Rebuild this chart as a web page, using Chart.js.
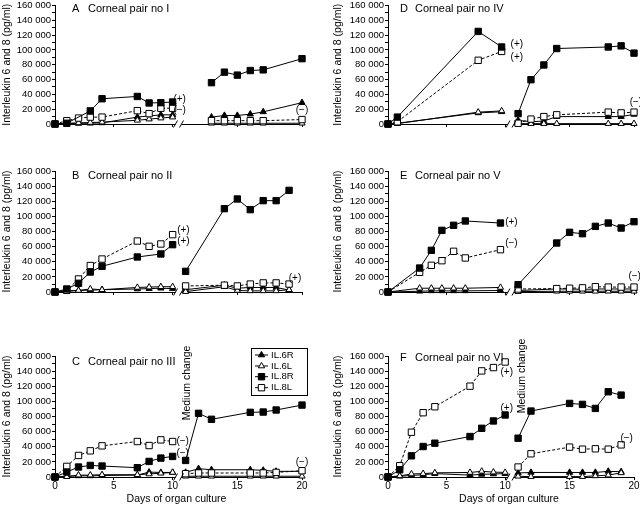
<!DOCTYPE html>
<html><head><meta charset="utf-8">
<script src="https://cdn.jsdelivr.net/npm/chart.js@4.4.1/dist/chart.umd.min.js"></script>
<style>
html,body{margin:0;padding:0;background:#fff;}
body{width:640px;height:505px;position:relative;overflow:hidden;}
canvas{position:absolute;}
</style></head><body>
<script>
// ---------------- DATA ----------------
const xTicksPre = [0, 5, 10];
const xTicksPost = [15, 20];
const yMax = 160000;

const daysA = [0,1,2,3,4,7,8,9,10,13,14,15,16,17,20];
const A_IL6R = [0,500,800,1000,1500,9300,null,12400,12400,9300,11500,11500,13300,16400,28800];
const A_IL6L = [0,1000,1500,2000,2500,5000,6600,8000,9300,1000,1000,1000,1000,1000,1000];
const A_IL8R = [0,1000,null,17700,34100,37200,28400,28800,29700,55800,70000,66000,72200,73100,88200];
const A_IL8L = [0,4400,8000,9300,9300,18000,14000,21300,21300,4500,4500,4500,4500,4500,6000];

const daysB = [0,1,2,3,4,7,8,9,10,11,14,15,16,17,18,19];
const B_IL6R = [0,1500,2000,2500,3000,4000,4500,5000,4500,3000,9000,5000,6000,6000,6000,2500];
const B_IL6L = [0,1000,2000,4000,3000,6000,6500,7000,7000,500,7000,2000,1500,1500,1500,3000];
const B_IL8R = [0,4000,11500,26400,34000,46300,null,50300,62600,27300,110200,123000,108900,120800,120800,134400];
const B_IL8L = [0,2200,17200,35000,43600,67400,60400,63500,75800,8000,9000,8000,10500,12000,12000,10500];

const daysC = [0,1,2,3,4,7,8,9,10,11,12,13,16,17,18,20];
const C_IL6R = [0,1000,1500,1500,2000,2500,6500,6000,6000,6100,11000,9600,9600,8800,7500,7500];
const C_IL6L = [0,500,2500,2500,3000,3000,4000,5000,6000,1000,1000,1000,1000,1000,1000,1000];
const C_IL8R = [0,6600,13200,15300,14500,12300,20600,25000,27200,21900,84200,76300,85500,85900,88600,95100];
const C_IL8L = [0,14000,28500,34600,41200,46900,41600,49100,46900,4400,5300,5300,5300,5300,6100,8300];

const daysD = [0,0.8,7.7,9.7,11,12,13,14,18,19,20];
const D_IL6R = [0,1000,15000,16500,5000,3000,4000,10000,10000,10000,13000];
const D_IL6L = [0,500,16000,17700,500,500,500,500,500,500,500];
const D_IL8R = [0,9300,125000,104000,14000,59800,79700,101900,104000,105500,95700];
const D_IL8L = [0,3000,86000,98000,1000,6600,10000,12400,16000,15000,16000];

const daysE = [0,2.7,3.7,4.6,5.6,6.6,9.6,11,14,15,16,17,18,19,20];
const E_IL6R = [0,1000,1500,1500,1500,1500,2000,2000,4000,4000,3500,4000,4000,4000,4000];
const E_IL6L = [0,5000,5000,5000,5000,5000,6000,500,1000,1000,1000,1000,1000,1000,1000];
const E_IL8R = [0,31700,55100,81500,88200,93900,91200,9700,64800,78900,77100,86800,91200,84600,93000];
const E_IL8L = [0,26000,35300,41400,53800,45000,56000,4000,4500,5000,5500,7000,6500,6500,6500];

const daysF = [0,1,2,3,4,7,8,9,10,11,12,15,16,17,18,19];
const F_IL6R = [0,1000,2000,3000,4500,2500,3500,4000,4500,5300,6000,6000,6000,6000,7500,7000];
const F_IL6L = [0,1500,4000,4500,5500,6000,7500,6500,6000,1000,500,500,500,1500,2500,5500];
const F_IL8R = [0,9600,28000,40300,44700,53500,64400,74100,82000,51300,87200,97300,96000,90700,112700,108300];
const F_IL8L = [0,14900,59200,85000,92900,120100,140300,144700,152100,13200,30700,39500,36800,37300,36800,42500];

// annotation texts [day, value, text]
const notesA = [[10.54,33500,'(+)'],[10.54,19000,'(\u2212)'],[20,19000,'(\u2212)']];
const notesB = [[10.83,81000,'(+)'],[10.83,66900,'(+)'],[19.46,18500,'(+)']];
const notesC = [[10.77,47000,'(\u2212)'],[10.77,31700,'(\u2212)'],[20,19300,'(\u2212)']];
const notesD = [[10.9,107700,'(+)'],[10.9,90800,'(+)'],[20.15,30000,'(\u2212)']];
const notesE = [[10.48,92000,'(+)'],[10.48,63900,'(\u2212)'],[20.05,20600,'(\u2212)']];
const notesF = [[10.14,138000,'(+)'],[10.14,91000,'(+)'],[19.43,51400,'(\u2212)']];

const seriesNames = ['IL.6R','IL.6L','IL.8R','IL.8L'];

// ---------------- STYLE / LAYOUT ----------------
const FONT = "'Liberation Sans',Arial,Helvetica,sans-serif";
Chart.defaults.font.family = FONT;
Chart.defaults.color = '#000';
const SPLIT = 10.45;

const SERIES = [
  {name:seriesNames[0], style:'triangle', r:3.6, fill:'#000', dash:[], order:4},
  {name:seriesNames[1], style:'triangle', r:3.6, fill:'#fff', dash:[], order:3},
  {name:seriesNames[2], style:'rect', r:4.5, fill:'#000', dash:[], order:1},
  {name:seriesNames[3], style:'rect', r:4.5, fill:'#fff', dash:[3,2], order:2}
];

const COLS = [
  {left:0, w:320, yw:55, padR:18, yTitleX:7.5, letterDx:17, textDx:33},
  {left:320, w:320, yw:68, padR:6, yTitleX:18, letterDx:12, textDx:27}
];
const ROWS = [
  {top:0, h:140, padT:4, xh:16, labels:false},
  {top:150, h:160, padT:21, xh:18, labels:false},
  {top:330, h:175, padT:26, xh:28, labels:true}
];

const panels = [
  {id:'A', title:'Corneal pair no I', col:0, row:0, days:daysA, vals:[A_IL6R,A_IL6L,A_IL8R,A_IL8L], notes:notesA, tdy:3.5},
  {id:'B', title:'Corneal pair no II', col:0, row:1, days:daysB, vals:[B_IL6R,B_IL6L,B_IL8R,B_IL8L], notes:notesB, tdy:5},
  {id:'C', title:'Corneal pair no III', col:0, row:2, days:daysC, vals:[C_IL6R,C_IL6L,C_IL8R,C_IL8L], notes:notesC, tdy:6, legend:true, medium:{dx:1, dy:27}},
  {id:'D', title:'Corneal pair no IV', col:1, row:0, days:daysD, vals:[D_IL6R,D_IL6L,D_IL8R,D_IL8L], notes:notesD, tdy:3.5},
  {id:'E', title:'Corneal pair no V', col:1, row:1, days:daysE, vals:[E_IL6R,E_IL6L,E_IL8R,E_IL8L], notes:notesE, tdy:5},
  {id:'F', title:'Corneal pair no VI', col:1, row:2, days:daysF, vals:[F_IL6R,F_IL6L,F_IL8R,F_IL8L], notes:notesF, tdy:1.5, medium:{dx:4.5, dy:20}}
];

function fmtY(v){ return v === 0 ? '0' : (v/1000) + ' 000'; }

function makeDatasets(p){
  const ds = [];
  SERIES.forEach((s, si) => {
    const v = p.vals[si];
    const pre = [], post = [];
    p.days.forEach((d, i) => {
      if (v[i] == null) return;
      (d < SPLIT ? pre : post).push({x:d, y:v[i]});
    });
    [[pre,'x1'],[post,'x2']].forEach(([pts, ax]) => {
      ds.push({
        label:s.name, data:pts, xAxisID:ax, yAxisID:'y',
        borderColor:'#000', borderWidth:1, borderDash:s.dash,
        pointStyle:s.style, pointRadius:s.r, pointBackgroundColor:s.fill,
        pointBorderColor:'#000', pointBorderWidth:1,
        tension:0, clip:false, order:s.order, fill:false
      });
    });
  });
  return ds;
}

function drawMarker(ctx, s, x, y){
  ctx.save();
  ctx.fillStyle = s.fill; ctx.strokeStyle = '#000'; ctx.lineWidth = 1;
  Chart.helpers.drawPoint(ctx, {pointStyle:s.style, radius:s.r, rotation:0, borderWidth:1}, x, y);
  ctx.restore();
}

function decoPlugin(p, col, row){
  return {
    id:'deco'+p.id,
    afterDraw(chart){
      const ctx = chart.ctx, ca = chart.chartArea;
      const x1 = chart.scales.x1, x2 = chart.scales.x2, y = chart.scales.y;
      ctx.save();
      ctx.fillStyle = '#000';
      // panel title
      ctx.font = '11px ' + FONT;
      ctx.textBaseline = 'middle'; ctx.textAlign = 'left';
      ctx.fillText(p.id, ca.left + col.letterDx, ca.top + p.tdy);
      ctx.fillText(p.title, ca.left + col.textDx, ca.top + p.tdy);
      // y title
      ctx.save();
      ctx.font = '10.5px ' + FONT;
      ctx.translate(col.yTitleX, (ca.top + ca.bottom)/2);
      ctx.rotate(-Math.PI/2);
      ctx.textAlign = 'center'; ctx.textBaseline = 'middle';
      ctx.fillText('Interleukin 6 and 8 (pg/ml)', 0, 0);
      ctx.restore();
      // x title
      if (row.labels){
        ctx.font = '10.5px ' + FONT;
        ctx.textAlign = 'center'; ctx.textBaseline = 'middle';
        ctx.fillText('Days of organ culture', (ca.left + ca.right)/2 - 2, ca.bottom + 22);
      }
      // axis break
      const bx = x1.right, by = ca.bottom;
      ctx.fillStyle = '#fff';
      ctx.fillRect(bx - 3, by - 1.5, 6, 3);
      ctx.strokeStyle = '#000'; ctx.lineWidth = 1;
      ctx.beginPath();
      ctx.moveTo(bx - 5, by + 3.5); ctx.lineTo(bx - 1, by - 3.5);
      ctx.moveTo(bx + 1, by + 3.5); ctx.lineTo(bx + 5, by - 3.5);
      ctx.stroke();
      // notes
      ctx.fillStyle = '#000';
      ctx.font = '10px ' + FONT;
      ctx.textAlign = 'center'; ctx.textBaseline = 'middle';
      p.notes.forEach(([d, v, t]) => {
        const px = (d < SPLIT ? x1 : x2).getPixelForValue(d);
        ctx.fillText(t, px, y.getPixelForValue(v));
      });
      // medium change
      if (p.medium){
        ctx.save();
        ctx.font = '10.5px ' + FONT;
        ctx.translate(x2.getPixelForValue(11) + p.medium.dx, ca.top + p.medium.dy);
        ctx.rotate(-Math.PI/2);
        ctx.textAlign = 'center'; ctx.textBaseline = 'middle';
        ctx.fillText('Medium change', 0, 0);
        ctx.restore();
      }
      // legend
      if (p.legend){
        const lx = ca.right - 51, ly = ca.top - 8, lw = 56, lh = 47;
        ctx.strokeStyle = '#000'; ctx.lineWidth = 1;
        ctx.fillStyle = '#fff';
        ctx.fillRect(lx, ly, lw, lh);
        ctx.strokeRect(lx + 0.5, ly + 0.5, lw, lh);
        const rowsY = [7, 18, 28.7, 39.7];
        SERIES.forEach((s, i) => {
          const yy = ly + rowsY[i];
          ctx.save();
          ctx.setLineDash(s.dash);
          ctx.beginPath(); ctx.moveTo(lx + 4, yy); ctx.lineTo(lx + 17, yy); ctx.stroke();
          ctx.restore();
          drawMarker(ctx, s, lx + 10.5, yy);
          ctx.fillStyle = '#000';
          ctx.font = '9.5px ' + FONT;
          ctx.textAlign = 'left'; ctx.textBaseline = 'middle';
          ctx.fillText(s.name, lx + 20, yy);
        });
      }
      ctx.restore();
    }
  };
}

function xScale(row, min, max, ticksArr){
  return {
    type:'linear', position:'bottom', stack:'days', stackWeight:1,
    min:min, max:max, offset:false,
    afterBuildTicks: sc => { sc.ticks = ticksArr.map(v => ({value:v})); },
    afterFit: sc => { sc.height = row.xh; sc.paddingLeft = 0; sc.paddingRight = 0; },
    grid:{display:true, drawOnChartArea:false, drawTicks:true, tickLength:3, color:'#000', lineWidth:1},
    border:{display:true, color:'#000', width:1},
    ticks:{display:row.labels, font:{size:10}, padding:0, maxRotation:0, autoSkip:false, color:'#000'}
  };
}

panels.forEach(p => {
  const col = COLS[p.col], row = ROWS[p.row];
  const cv = document.createElement('canvas');
  cv.width = col.w; cv.height = row.h;
  cv.style.left = col.left + 'px'; cv.style.top = row.top + 'px';
  cv.style.width = col.w + 'px'; cv.style.height = row.h + 'px';
  document.body.appendChild(cv);
  new Chart(cv, {
    type:'line',
    data:{datasets:makeDatasets(p)},
    options:{
      responsive:false, animation:false, events:[], devicePixelRatio:1,
      layout:{padding:{top:row.padT, left:0, right:col.padR, bottom:0}},
      plugins:{legend:{display:false}, tooltip:{enabled:false}, title:{display:false}},
      scales:{
        x1: xScale(row, 0, 10.5, xTicksPre),
        x2: xScale(row, 10.45, 20, xTicksPost),
        y: {
          type:'linear', position:'left', min:0, max:yMax,
          afterFit: sc => { sc.width = col.yw; sc.paddingTop = 0; sc.paddingBottom = 0; },
          ticks:{stepSize:10000, autoSkip:false, font:{size:9.5}, padding:1, color:'#000',
                 callback: v => (v % 20000 === 0 ? fmtY(v) : '')},
          grid:{display:true, drawOnChartArea:false, drawTicks:true, tickLength:3, color:'#000', lineWidth:1},
          border:{display:true, color:'#000', width:1}
        }
      }
    },
    plugins:[decoPlugin(p, col, row)]
  });
});
</script>
</body></html>
